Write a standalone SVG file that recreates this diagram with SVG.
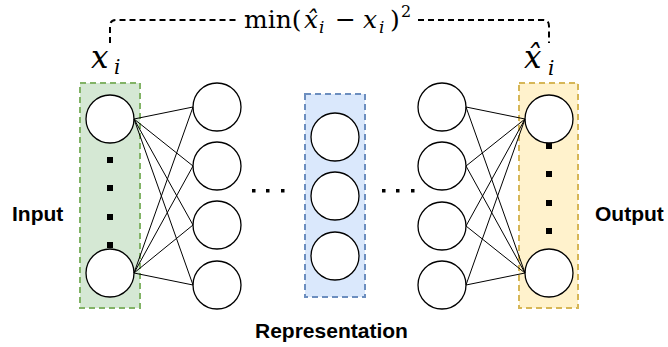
<svg xmlns="http://www.w3.org/2000/svg" width="668" height="347" viewBox="0 0 668 347">
<style>
.n{fill:#fff;stroke:#000;stroke-width:1.3}
.e{stroke:#000;stroke-width:1;fill:none}
.sq{fill:#000}
.lbl{font-family:"Liberation Sans",Arial,sans-serif;font-weight:bold;font-size:21px;fill:#000}
.m{font-family:"DejaVu Serif","Liberation Serif",serif;fill:#000}
.it{font-style:italic}
.dash{fill:none;stroke:#000;stroke-width:2;stroke-dasharray:6 4}
</style>
<rect width="668" height="347" fill="#fff"/>
<g id="input-layer">
<rect x="80" y="83" width="60" height="225" fill="#d5e8d4" stroke="#82b366" stroke-width="2" stroke-dasharray="6 4"/>
<circle class="n" cx="110" cy="119" r="24"/>
<circle class="n" cx="110" cy="273" r="24"/>
<rect class="sq" x="107" y="157" width="6" height="6"/>
<rect class="sq" x="107" y="185" width="6" height="6"/>
<rect class="sq" x="107" y="214" width="6" height="6"/>
<rect class="sq" x="107" y="242" width="6" height="6"/>
</g>
<g id="hidden-layer-1">
<circle class="n" cx="217" cy="107" r="24"/>
<circle class="n" cx="217" cy="166" r="24"/>
<circle class="n" cx="217" cy="225" r="24"/>
<circle class="n" cx="217" cy="285" r="24"/>
</g>
<g id="representation-layer">
<rect x="305" y="94" width="60" height="203" fill="#dae8fc" stroke="#6c8ebf" stroke-width="2" stroke-dasharray="6 4"/>
<circle class="n" cx="335" cy="137" r="24"/>
<circle class="n" cx="335" cy="196" r="24"/>
<circle class="n" cx="335" cy="256" r="24"/>
</g>
<g id="hidden-layer-2">
<circle class="n" cx="442" cy="107" r="24"/>
<circle class="n" cx="442" cy="166" r="24"/>
<circle class="n" cx="442" cy="226" r="24"/>
<circle class="n" cx="442" cy="285" r="24"/>
</g>
<g id="output-layer">
<rect x="519" y="83" width="59" height="225" fill="#fff2cc" stroke="#d6b656" stroke-width="2" stroke-dasharray="6 4"/>
<circle class="n" cx="549" cy="119" r="24"/>
<circle class="n" cx="549" cy="273" r="24"/>
<rect class="sq" x="546" y="143" width="6" height="6"/>
<rect class="sq" x="546" y="171" width="6" height="6"/>
<rect class="sq" x="546" y="200" width="6" height="6"/>
<rect class="sq" x="546" y="228" width="6" height="6"/>
</g>
<g id="ellipsis-left">
<rect class="sq" x="252" y="189" width="3.5" height="3.5"/>
<rect class="sq" x="266" y="189" width="3.5" height="3.5"/>
<rect class="sq" x="281" y="189" width="3.5" height="3.5"/>
</g>
<g id="ellipsis-right">
<rect class="sq" x="382" y="189" width="3.5" height="3.5"/>
<rect class="sq" x="396" y="189" width="3.5" height="3.5"/>
<rect class="sq" x="411" y="189" width="3.5" height="3.5"/>
</g>
<g id="connectors">
<path class="e" d="M134,119 L193,107 M134,119 L193,166 M134,119 L193,225 M134,119 L193,285 M134,273 L193,107 M134,273 L193,166 M134,273 L193,225 M134,273 L193,285"/>
<path class="e" d="M466,107 L525,119 M466,166 L525,119 M466,226 L525,119 M466,285 L525,119 M466,107 L525,273 M466,166 L525,273 M466,226 L525,273 M466,285 L525,273"/>
<path class="dash" d="M110,43 V26 Q110,20 116,20 H238 M418,20 H543 Q549,20 549,26 V43"/>
</g>
<g id="loss-label">
<text class="m" font-size="25" y="28"><tspan x="244">min(</tspan><tspan class="it" x="304">x̂</tspan><tspan font-size="17" class="it" x="319" y="33">i</tspan><tspan x="335" y="28">−</tspan><tspan class="it" x="363">x</tspan><tspan font-size="17" class="it" x="379" y="33">i</tspan><tspan x="390" y="28">)</tspan><tspan font-size="16" x="401" y="17">2</tspan></text>
</g>
<g id="xi-label">
<text class="m it" font-size="31" x="91" y="68">x<tspan font-size="20" x="114" y="74">i</tspan></text>
</g>
<g id="xhat-label">
<text class="m it" font-size="31" x="524" y="68">x̂<tspan font-size="20" x="548" y="75">i</tspan></text>
</g>
<text class="lbl" x="12" y="221">Input</text>
<text class="lbl" x="595" y="221">Output</text>
<text class="lbl" x="255" y="338">Representation</text>
</svg>
